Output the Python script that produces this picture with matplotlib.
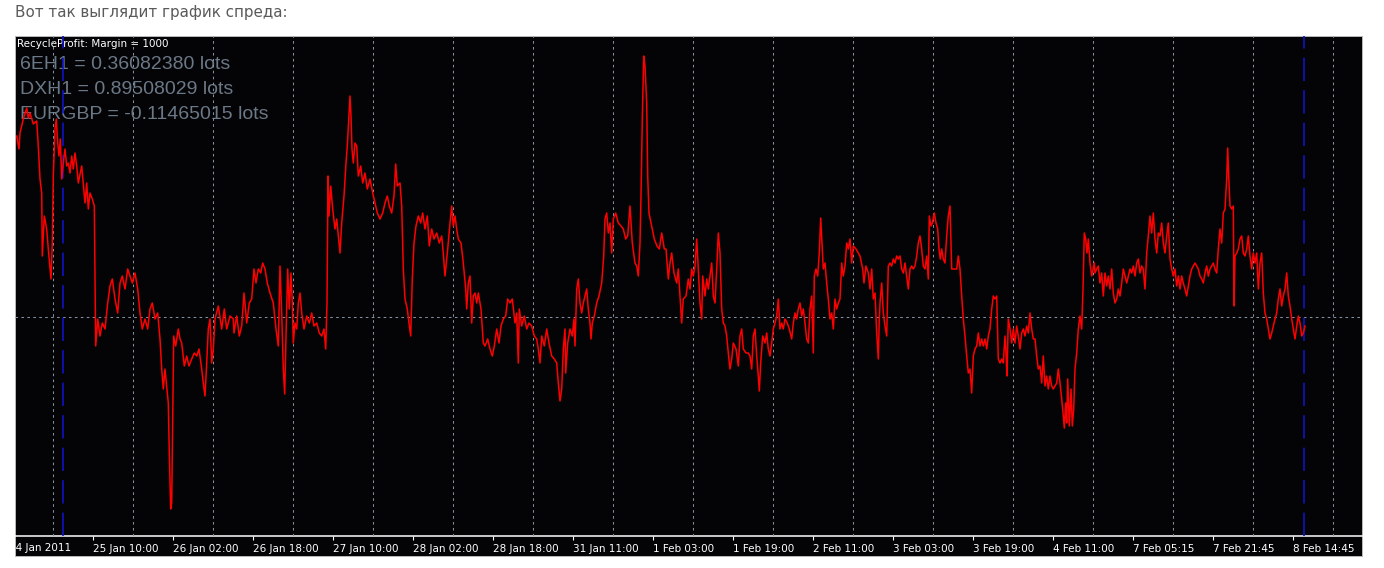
import matplotlib
matplotlib.use("Agg")
import matplotlib.pyplot as plt
from matplotlib.patches import Rectangle
import matplotlib.transforms as mtransforms

# ---------------- data ----------------
title_text = "Вот так выглядит график спреда:"
header_text = "RecycleProfit: Margin = 1000"
lot_lines = ["6EH1 = 0.36082380 lots",
             "DXH1 = 0.89508029 lots",
             "EURGBP = -0.11465015 lots"]

first_label_bar = -6
first_label = "24 Jan 2011"
tick_bars = [78, 158, 238, 318, 398, 478, 558, 638, 718, 798, 878, 958,
             1038, 1118, 1198, 1278]
tick_labels = ["25 Jan 10:00", "26 Jan 02:00", "26 Jan 18:00", "27 Jan 10:00",
               "28 Jan 02:00", "28 Jan 18:00", "31 Jan 11:00", "1 Feb 03:00",
               "1 Feb 19:00", "2 Feb 11:00", "3 Feb 03:00", "3 Feb 19:00",
               "4 Feb 11:00", "7 Feb 05:15", "7 Feb 21:45", "8 Feb 14:45"]
grid_bars = [38 + 40 * k for k in range(33)]
session_bars = [48, 1289]

bar = [1.7, 4, 5, 8.3, 11.7, 13.3, 15, 18.3, 21.7, 23.3, 25, 26.7, 27.3, 29.3, 31.7,
       33.3, 36, 37.3, 38.3, 40, 41.3, 42.7, 44, 45.3, 46.7, 48.3, 50, 51.7, 53.3, 55,
       56.7, 58.3, 60, 61.7, 63.3, 66.7, 70, 71.7, 73.3, 75, 77.3, 79.3, 80.7, 82.7, 85,
       87.3, 90, 92.7, 95, 97.3, 100, 102.7, 105, 107.3, 110, 112.7, 115, 117.3, 120,
       122.7, 125, 127.3, 130, 132.7, 135, 137.3, 140, 142.7, 145, 146.7, 148.3, 150,
       151.7, 153.3, 154.3, 155.7, 156.7, 157.7, 158.7, 160.7, 163.3, 165, 166.7, 169.3,
       171.7, 174, 176.7, 179.3, 181.7, 184, 186.7, 188.3, 190, 191.7, 193.3, 195, 196.7,
       198.3, 200, 203.3, 206.7, 209.3, 211.7, 215, 218.3,
       219, 221.7, 224.3, 226.7, 229, 231.7, 234.3, 236.7, 239, 241, 243.3, 245.7, 247.7,
       250, 252.3, 255, 258.3, 261, 263.3, 265, 266.7, 268.3, 269.7, 271, 272.7, 274.3,
       276, 277.3, 278.3, 280, 281.7, 283.3, 285, 286.7, 289, 291.7, 294.3, 296.7, 299,
       301.7, 304.3, 306.7, 309, 310.7, 312, 313, 314, 315.7, 317.7, 320, 321.7, 323.3,
       325, 326.7, 329, 331, 332.3, 333.7, 335, 336, 337, 338.3, 340, 341.7, 343.3, 345.7,
       347.7, 350, 352.3, 355, 357.7, 360, 362.3, 365, 367.7, 370, 372.3, 374.3, 376.7,
       379, 380.7, 382.3, 385, 386.7, 388.3, 390, 392.3, 394, 395.7, 397.3, 399, 401,
       403.3, 405.7, 407.7, 410, 412.3, 414.3, 416.7, 419, 421.7, 424.3, 426.7, 428.3, 430,
       432.7, 435, 436.7, 438.3, 440, 441.7, 443.3, 446, 448.3, 450.7, 451.7, 453.3, 455,
       456.7, 458.3, 460, 461.7, 463.3, 466, 468.3, 470, 472.7, 475, 477.3, 479.3, 481.7,
       484, 486, 488.3, 490.7, 492.7, 495, 497.3, 500, 501.7, 503.3, 504.3, 506.7, 509.3,
       511.7, 514, 516.7, 519.3, 521.7, 523.3, 525, 526.7, 529.3, 531.7, 534, 536.7, 539.3,
       541.7, 543.3, 545, 546.7, 548.3, 550, 550.7, 552.7, 555, 557.3, 559, 560, 561.7,
       563.3, 565, 566.7, 568.3, 570, 571.7, 573.3, 575, 576, 577.3, 579.3, 581.7, 584,
       586.7, 588.7, 590, 591.7, 593.3, 595, 596.7, 598.3, 600.7, 603.3, 606, 608.3, 610.7,
       612.7, 615, 617.3, 620, 621.7, 623.3, 625, 626, 627.3, 628.7, 630, 631.7, 632.7, 634,
       636.7, 639.3, 642, 644.3, 646.7, 649.3,
       651, 653.3, 655, 656.7, 659, 661.7, 663.3, 665, 666.7, 668.3, 671, 673.3, 675, 676.7,
       678.3, 680, 681.7, 683.3, 685, 686.7, 687.7, 690, 691.7, 693.3, 695, 696.7, 698.3,
       700, 701.7, 703.3, 705, 706.7, 708.3, 710, 711.7, 713.3, 715, 716.7, 718.3, 721,
       723.3, 725, 726.7, 728.3, 731, 733.3, 735, 736.7, 738.3, 740, 741.7, 743.3, 744.3,
       745.7, 747.7, 750, 751.7, 753.3, 755, 756.7, 758.3, 760, 761.7, 763.3, 765, 766.7,
       768.3, 770, 772.3, 774.3, 776.7, 778.3, 780, 781.7, 783.3, 785, 786.7, 788.3, 790,
       791.7, 793.3, 795, 796.7, 798.3, 799.3, 801, 802.7, 804.3, 805.7, 807, 808.3, 810,
       811.7, 813.3, 815, 816.7, 818.3, 820, 821.7, 823.3, 825, 826.7, 828.3, 830, 831.7,
       833.3, 835, 836.7, 838.3, 841, 843.3, 845, 847.7, 849, 851, 853.3, 855, 856.7,
       858.3, 860, 861.7, 863.3, 864.3,
       865, 866.7, 868.3, 870, 871.7, 873.3, 875, 876.7, 878.3, 880, 881.7, 883.3, 885,
       886.7, 888.3, 890, 891.7, 893.3, 895, 896.7, 898.3, 900, 901.7, 903.3, 905, 906.7,
       908.3, 910, 911.7, 913.3, 914.3, 916, 917.3, 919.3, 921, 922.7, 924, 925.3, 926.7,
       928.3, 930, 931.7, 933.3, 935, 936.7, 938.3, 940, 941.7, 943.3, 945, 946.7, 948.3,
       950, 951.7, 953.3, 955, 956.7, 958.3, 960, 961.7, 963.3, 965, 966.7, 968.3, 970,
       971.7, 973.3, 975, 976.7, 978.3, 980, 981.7, 983.3, 985, 986.7, 988.3, 990, 991,
       992, 993.3, 995, 996.7, 998.3, 1000, 1001.7, 1003.3, 1005, 1006.7, 1008.3, 1010,
       1011.7, 1013.3, 1015, 1016.7, 1018.3, 1020, 1021.7, 1023.3, 1025, 1026.7, 1028.3,
       1030, 1031.7, 1033.3, 1035, 1036.7, 1038.3, 1040, 1041.7, 1043.3, 1045, 1046.7,
       1048.3, 1049.3, 1050.7, 1051.7, 1052.7, 1054.3, 1056, 1057.3, 1058.7, 1060, 1061.7,
       1063.3, 1065, 1066.7, 1068, 1069.3, 1070.7, 1072, 1073.3, 1075, 1076.7, 1079.3,
       1080, 1081.7, 1083.3, 1085, 1086.7, 1088.3, 1090, 1091.7, 1093.3, 1095, 1096.7,
       1098.3, 1100, 1101.7, 1103.3, 1105, 1106.7, 1108.3, 1110, 1111.7, 1113.3, 1115,
       1116.7, 1118.3, 1120, 1121.7, 1123.3, 1125, 1126.7, 1128.3, 1130, 1131.7, 1133.3,
       1135, 1136.7, 1138.3, 1140, 1141.7, 1143.3, 1145, 1146.7, 1148.3, 1150, 1151.7,
       1153.3, 1155, 1156.7, 1158.3, 1160, 1161.7, 1163.3, 1165, 1166.7, 1168.3, 1170,
       1171.7, 1173.3, 1175, 1176.7, 1178.3, 1180, 1181.7, 1183.3, 1185, 1186.7, 1188.3,
       1190, 1191.7, 1193.3, 1195, 1196.7, 1198.3, 1200, 1201.7, 1203.3, 1205, 1206.7,
       1208.3, 1210, 1211.7, 1212.7, 1213.7, 1215, 1216.7, 1218.3, 1219, 1220, 1221.7,
       1223.3, 1225, 1226.7, 1228.3, 1230, 1231.7, 1233.3, 1235, 1236.7, 1238.3, 1240,
       1241.7, 1243.3, 1245, 1246.7, 1248.3, 1250, 1251.7, 1253.3, 1255, 1256.7, 1258.3,
       1260, 1261.7, 1263.3, 1265, 1266.7, 1268.3, 1270, 1271.7, 1273.3, 1275, 1276.7,
       1278.3, 1280, 1281.7, 1283.3, 1285, 1286.7, 1288.3, 1290]

spread = [181, 168, 184, 198, 209, 199, 204, 193, 196, 171, 138, 124, 61, 101, 88,
          68, 38, 74, 141, 188, 198, 174, 161, 178, 138, 154, 168, 151, 154, 144,
          161, 148, 164, 151, 134, 151, 114, 134, 108, 124, 118, 111, -29, -2, -19,
          -6, -12, 14, 31, 38, 18, 4, 34, 41, 28, 48, 41, 34, 44,
          28, 4, -12, -2, -12, 8, 14, -2, 4, -22, -52, -72, -52,
          -69, -86, -136, -192, -186, -102, -19, -29, -12, -22, -26, -49,
          -39, -49, -42, -36, -39, -32, -52, -66, -79, -46, -12, -2, -46,
          -32, -2, 11, -12, 8, -12, 1, -2,
          -16, 1, -19, -9, 24, -6, 14, 18, 48, 34, 48, 44, 54,
          48, 34, 24, 14, -12, -29, 51, 4, -52, -77, -19, 48, 8,
          44, 14, -26, -6, -12, 14, 24, 4, -12, 1, -6, 4, -9,
          -6, -16, -19, -12, -32, 14, 141, 101, 131, 108, 88, 98, 81,
          64, 94, 121, 154, 171, 198, 221, 201, 168, 154, 174, 171, 141, 151,
          134, 144, 128, 138, 124, 114, 104, 98, 104, 114, 121, 111, 104,
          121, 153, 131, 134, 111, 48, 18, 8, -6, -19, 38, 74, 91,
          101, 94, 104, 88, 101, 71, 88, 78, 84, 74, 81, 64, 41,
          68, 94, 111, 91, 101, 88, 78, 74, 54, 28, 8, 34, 41,
          -6, 21, 24, 14, 24, 8, -26, -29, -22, -32, -39, -29, -12,
          -26, -9, -2, 1, 18, 14, 18, -6, 4, -46, 8, -9, 1,
          -12, -6, -9, -19, -22, -32, -46, -19, -29, -12, -26, -39, -42,
          -46, -66, -84, -72, -32, -12, -56, -26, -12, -19, -2, -29, 28,
          38, 14, 4, 14, 21, 28, 8, -6, -22, -6, 1, 14, 21,
          34, 61, 98, 104, 84, 94, 64, 98, 104, 94, 91, 88, 78,
          81, 111, 74, 54, 51, 41, 74, 121, 198, 261, 251, 214, 141, 104,
          91, 78, 71, 68, 84, 68,
          68, 38, 54, 64, 44, 34, 48, 21, -6, 18, 21, 38, 28, 48,
          41, 51, 78, 48, 14, -2, 41, 21, 38, 28, 41, 54, 21,
          14, 48, 84, 64, 8, -6, -9, -19, -36, -52, -42, -26, -32,
          -49, -19, -12, -32, -36, -36, -39, -52, -19, -12, -39, -59, -74,
          -46, -19, -26, -16, -32, -39, -26, -12, -6, 1, 18, -12, -6,
          -12, -2, -6, -12, -22, -6, 4, -2, 8, 14, 1, 8, -6,
          -22, -26, 8, 21, -36, 41, 48, 41, 64, 99, 74, 48, 54,
          34, 18, -2, 4, -12, 18, 8, 14, 18, 54, 41, 51, 74,
          68, 78, 54, 71, 68, 64, 61, 48, 34, 51, 44, 28, 48,
          18, 24, -16, -42, -2,
          14, 34, 4, -9, -19, 51, 54, 51, 58, 54, 61, 58, 61,
          48, 44, 54, 41, 28, 48, 51, 48, 51, 61, 74, 81, 68,
          51, 48, 61, 38, 101, 91, 94, 104, 94, 88, 68, 58, 68,
          58, 54, 81, 101, 111, 48, 48, 48, 48, 61, 48, 21, -2,
          -19, -39, -56, -52, -76, -39, -32, -29, -16, -29, -22, -29, -22,
          -32, -19, -12, 8, 21, 18, 21, -42, -46, -42, -46, -19, -36,
          -59, -2, -12, -26, -12, -26, -9, -19, -32, -16, -12, -19,
          -9, -16, 4, -12, -22, -22, -39, -52, -49, -66, -39,
          -69, -59, -72, -59, -69, -72, -69, -66, -52, -66, -82,
          -99, -111, -86, -106, -62, -109, -72, -109, -92, -52, -36,
          -12, 1, -12, 28, 84, 78, 64, 78, 54, 41, 54,
          44, 48, 51, 34, 44, 21, 44, 31, 41, 28, 48,
          24, 14, 18, 28, 21, 34, 48, 41, 34, 41, 48,
          44, 51, 41, 54, 58, 44, 51, 48, 28, 64, 81,
          101, 84, 104, 78, 64, 84, 81, 94, 74, 64, 81,
          94, 58, 48, 41, 48, 31, 41, 28, 41, 34, 28,
          21, 31, 41, 48, 51, 54, 51, 48, 41, 38, 34,
          44, 51, 41, 48, 51, 54, 48, 44, 68, 88, 74,
          104, 108, 138, 169, 141, 111, 108, 111, 11, 61, 64,
          68, 78, 81, 64, 61, 68, 81, 61, 48, 64, 54,
          64, 28, 54, 64, 24, 4, -2, -12, -22, -16, -9,
          -2, 4, 18, 28, 11, 21, 28, 44, 21, 11, -2,
          -12, -22, -9, 1, -6, -19, -16, -9]

# ---------------- figure ----------------
W, H = 1384, 568
fig = plt.figure(figsize=(W / 100, H / 100), dpi=100, facecolor="white")


def fx(px):
    return px / W


def fy(py):
    return 1 - py / H


# title above the chart
fig.text(fx(15), fy(17), title_text, fontsize=10.9, color="#5a5a5a",
         family="DejaVu Sans", va="baseline", ha="left")

# black terminal panel
panel = Rectangle((fx(15), fy(556)), fx(1362) - fx(15), fy(36) - fy(556),
                  transform=fig.transFigure, facecolor="#040407",
                  edgecolor="#b8b8b8", linewidth=0.7, zorder=-10)
fig.patches.append(panel)

# plot axes (plot area: x 15..1362, y 36..536)
ax = fig.add_axes([fx(15), fy(536), fx(1362) - fx(15), fy(36) - fy(536)])
ax.set_zorder(5)
ax.set_facecolor("none")
ax.set_xlim(0, 1347)
ax.set_ylim(-219, 281)

for s in ["left", "right", "top"]:
    ax.spines[s].set_visible(False)
ax.spines["bottom"].set_color("white")
ax.spines["bottom"].set_linewidth(1.1)

grid_style = dict(color="#8390a0", linewidth=0.75, linestyle=(0, (2.5, 3.2)))
ax.set_axisbelow(False)
ax.set_xticks(grid_bars, minor=True)
ax.set_xticks(tick_bars)
ax.set_xticklabels(tick_labels, ha="left")
ax.tick_params(axis="x", which="major", colors="white", length=3, width=0.8,
               direction="out", pad=2.5, labelsize=7.5)
ax.tick_params(axis="x", which="minor", length=0)
ax.xaxis.grid(True, which="minor", **grid_style)
ax.xaxis.grid(False, which="major")
ax.set_yticks([0])
ax.set_yticklabels([])
ax.tick_params(axis="y", length=0)
ax.yaxis.grid(True, which="major", **grid_style)

# first (clipped) date label
blend = mtransforms.blended_transform_factory(ax.transData, ax.transAxes)
offset = mtransforms.ScaledTranslation(0, -5.3 / 72, fig.dpi_scale_trans)
t0 = ax.text(first_label_bar, 0, first_label, transform=blend + offset,
             color="white", fontsize=7.5, ha="left", va="top")
t0.set_clip_on(True)
t0.set_clip_box(mtransforms.TransformedBbox(
    mtransforms.Bbox([[fx(15), 0.0], [fx(1362), 1.0]]), fig.transFigure))

# session separators (blue dashed)
for b in session_bars:
    ax.axvline(b, color="#0f12c8", linewidth=1.2, linestyle=(0, (14, 5.5)),
               zorder=2.6)

# spread line
ax.plot(bar, spread, color="#ff0000", linewidth=1.1, zorder=3)

# overlay texts (under the grid)
ax.text(fx(17), fy(47), header_text, transform=fig.transFigure, color="white",
        fontsize=7.5, family="DejaVu Sans", va="baseline", ha="left", zorder=1)
for i, line in enumerate(lot_lines):
    ax.text(fx(20), fy(69 + 25 * i), line, transform=fig.transFigure,
            color="#6b7886", fontsize=14, family="Liberation Sans",
            va="baseline", ha="left", zorder=1)

fig.savefig("out.png", dpi=100, facecolor="white")
